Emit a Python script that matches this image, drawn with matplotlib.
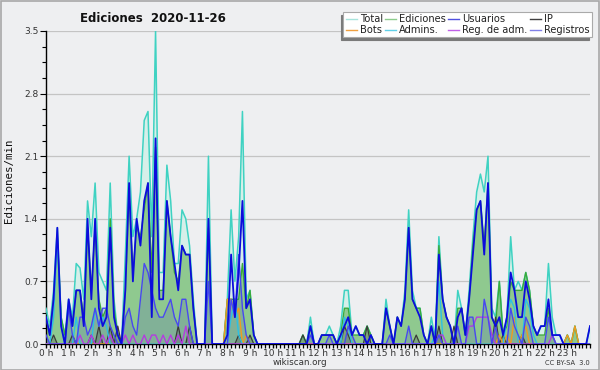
import numpy as np
import matplotlib
matplotlib.use("Agg")
import matplotlib.pyplot as plt
from matplotlib.lines import Line2D
from matplotlib.patches import Rectangle
from matplotlib.ticker import MultipleLocator

# 10-minute slots, 0h .. 24h (edits per minute)
total = [
    0.4, 0.2, 0.6, 1.3, 0.3, 0.1,
    0.5, 0.3, 0.9, 0.85, 0.5, 1.6,
    1.2, 1.8, 0.8, 0.7, 0.6, 1.8,
    0.5, 0.1, 0.0, 1.0, 2.1, 1.2,
    1.4, 1.7, 2.5, 2.6, 1.2, 3.5,
    0.8, 0.8, 2.0, 1.6, 0.9, 0.9,
    1.5, 1.4, 1.1, 0.5, 0.0, 0.0,
    0.0, 2.1, 0.0, 0.0, 0.0, 0.0,
    0.5, 1.5, 0.7, 1.2, 2.6, 0.5,
    0.6, 0.1, 0.0, 0.0, 0.0, 0.0,
    0.0, 0.0, 0.0, 0.0, 0.0, 0.0,
    0.0, 0.0, 0.1, 0.0, 0.3, 0.0,
    0.0, 0.1, 0.1, 0.2, 0.1, 0.0,
    0.2, 0.6, 0.6, 0.1, 0.2, 0.1,
    0.1, 0.2, 0.1, 0.0, 0.0, 0.0,
    0.5, 0.2, 0.0, 0.3, 0.2, 0.6,
    1.5, 0.6, 0.4, 0.4, 0.1, 0.0,
    0.3, 0.05, 1.2, 0.5, 0.3, 0.2,
    0.0, 0.6, 0.4, 0.1, 0.6, 1.2,
    1.7, 1.9, 1.7, 2.1, 0.4, 0.3,
    0.7, 0.1, 0.3, 1.2, 0.6, 0.7,
    0.6, 0.8, 0.6, 0.2, 0.1, 0.2,
    0.2, 0.9, 0.3, 0.1, 0.1, 0.0,
    0.1, 0.0, 0.2, 0.0, 0.0, 0.0,
    0.2,
]
ediciones = [
    0.3, 0.1, 0.5, 1.2, 0.3, 0.1,
    0.4, 0.2, 0.6, 0.6, 0.3, 1.3,
    0.6, 1.3, 0.5, 0.3, 0.4, 1.4,
    0.4, 0.1, 0.0, 0.6, 1.7, 0.8,
    1.3, 1.2, 1.5, 1.8, 0.8, 2.2,
    0.6, 0.6, 1.6, 1.2, 0.8, 0.7,
    1.1, 1.0, 1.0, 0.4, 0.0, 0.0,
    0.0, 1.3, 0.0, 0.0, 0.0, 0.0,
    0.5, 0.5, 0.5, 0.5, 0.9, 0.4,
    0.6, 0.1, 0.0, 0.0, 0.0, 0.0,
    0.0, 0.0, 0.0, 0.0, 0.0, 0.0,
    0.0, 0.0, 0.1, 0.0, 0.2, 0.0,
    0.0, 0.1, 0.1, 0.1, 0.1, 0.0,
    0.1, 0.4, 0.4, 0.1, 0.1, 0.1,
    0.1, 0.2, 0.1, 0.0, 0.0, 0.0,
    0.4, 0.2, 0.0, 0.3, 0.2, 0.5,
    1.3, 0.5, 0.4, 0.4, 0.1, 0.0,
    0.2, 0.0, 1.1, 0.5, 0.3, 0.2,
    0.0, 0.4, 0.4, 0.1, 0.5, 1.1,
    1.5, 1.6, 1.1, 1.8, 0.3, 0.2,
    0.7, 0.1, 0.2, 0.7, 0.6, 0.6,
    0.6, 0.8, 0.6, 0.2, 0.1, 0.1,
    0.1, 0.4, 0.1, 0.0, 0.0, 0.0,
    0.1, 0.0, 0.2, 0.0, 0.0, 0.0,
    0.0,
]
usuarios = [
    0.3, 0.1, 0.5, 1.3, 0.2, 0.0,
    0.5, 0.2, 0.6, 0.6, 0.2, 1.4,
    0.5, 1.4, 0.4, 0.2, 0.3, 1.3,
    0.3, 0.1, 0.0, 0.6, 1.8, 0.7,
    1.4, 1.1, 1.6, 1.8, 0.3, 2.3,
    0.5, 0.5, 1.6, 1.2, 0.9, 0.6,
    1.1, 1.0, 1.0, 0.4, 0.0, 0.0,
    0.0, 1.4, 0.0, 0.0, 0.0, 0.0,
    0.1, 1.0, 0.3, 0.8, 1.6, 0.4,
    0.5, 0.1, 0.0, 0.0, 0.0, 0.0,
    0.0, 0.0, 0.0, 0.0, 0.0, 0.0,
    0.0, 0.0, 0.0, 0.0, 0.2, 0.0,
    0.0, 0.1, 0.1, 0.1, 0.1, 0.0,
    0.1, 0.2, 0.3, 0.1, 0.2, 0.1,
    0.1, 0.0, 0.1, 0.0, 0.0, 0.0,
    0.4, 0.2, 0.0, 0.3, 0.2, 0.5,
    1.3, 0.5, 0.4, 0.3, 0.1, 0.0,
    0.2, 0.0, 1.0, 0.5, 0.3, 0.2,
    0.0, 0.3, 0.4, 0.1, 0.5, 1.0,
    1.5, 1.6, 1.0, 1.8, 0.3, 0.2,
    0.3, 0.1, 0.3, 0.8, 0.6, 0.3,
    0.3, 0.7, 0.5, 0.2, 0.1, 0.2,
    0.2, 0.5, 0.1, 0.1, 0.1, 0.0,
    0.0, 0.0, 0.0, 0.0, 0.0, 0.0,
    0.2,
]
ip = [
    0.0, 0.0, 0.1, 0.0, 0.0, 0.0,
    0.0, 0.1, 0.0, 0.0, 0.0, 0.0,
    0.1, 0.0, 0.2, 0.0, 0.0, 0.2,
    0.0, 0.2, 0.0, 0.0, 0.0, 0.0,
    0.0, 0.0, 0.0, 0.0, 0.0, 0.0,
    0.0, 0.0, 0.0, 0.0, 0.0, 0.2,
    0.0, 0.0, 0.2, 0.0, 0.0, 0.0,
    0.0, 0.0, 0.0, 0.0, 0.0, 0.0,
    0.0, 0.0, 0.0, 0.1, 0.0, 0.0,
    0.1, 0.0, 0.0, 0.0, 0.0, 0.0,
    0.0, 0.0, 0.0, 0.0, 0.0, 0.0,
    0.0, 0.0, 0.1, 0.0, 0.0, 0.0,
    0.0, 0.0, 0.0, 0.0, 0.0, 0.0,
    0.0, 0.2, 0.1, 0.0, 0.0, 0.0,
    0.0, 0.2, 0.0, 0.0, 0.0, 0.0,
    0.0, 0.0, 0.0, 0.0, 0.0, 0.0,
    0.0, 0.0, 0.1, 0.0, 0.0, 0.0,
    0.0, 0.0, 0.2, 0.0, 0.0, 0.0,
    0.2, 0.0, 0.0, 0.0, 0.0, 0.0,
    0.0, 0.0, 0.0, 0.0, 0.0, 0.3,
    0.0, 0.1, 0.0, 0.0, 0.0, 0.0,
    0.1, 0.0, 0.0, 0.0, 0.0, 0.0,
    0.0, 0.0, 0.0, 0.0, 0.0, 0.0,
    0.0, 0.0, 0.0, 0.0, 0.0, 0.0,
    0.0,
]
bots = [
    0.0, 0.0, 0.0, 0.0, 0.0, 0.0,
    0.0, 0.0, 0.0, 0.0, 0.0, 0.0,
    0.0, 0.0, 0.0, 0.0, 0.0, 0.0,
    0.0, 0.0, 0.0, 0.0, 0.0, 0.0,
    0.0, 0.0, 0.0, 0.0, 0.0, 0.0,
    0.0, 0.0, 0.0, 0.0, 0.0, 0.0,
    0.0, 0.0, 0.0, 0.0, 0.0, 0.0,
    0.0, 0.0, 0.0, 0.0, 0.0, 0.0,
    0.5, 0.5, 0.3, 0.4, 0.0, 0.1,
    0.0, 0.0, 0.0, 0.0, 0.0, 0.0,
    0.0, 0.0, 0.0, 0.0, 0.0, 0.0,
    0.0, 0.0, 0.0, 0.0, 0.0, 0.0,
    0.0, 0.0, 0.0, 0.0, 0.0, 0.0,
    0.0, 0.0, 0.0, 0.0, 0.0, 0.0,
    0.0, 0.0, 0.0, 0.0, 0.0, 0.0,
    0.0, 0.0, 0.0, 0.0, 0.0, 0.0,
    0.0, 0.0, 0.0, 0.0, 0.0, 0.0,
    0.0, 0.0, 0.0, 0.0, 0.0, 0.0,
    0.0, 0.0, 0.0, 0.0, 0.0, 0.0,
    0.0, 0.0, 0.0, 0.0, 0.0, 0.0,
    0.1, 0.0, 0.1, 0.0, 0.3, 0.0,
    0.1, 0.2, 0.0, 0.0, 0.0, 0.0,
    0.0, 0.0, 0.0, 0.0, 0.0, 0.0,
    0.1, 0.0, 0.2, 0.0, 0.0, 0.0,
    0.0,
]
admins = [
    0.0, 0.0, 0.3, 1.2, 0.2, 0.0,
    0.0, 0.0, 0.3, 0.0, 0.0, 0.0,
    0.0, 0.4, 0.2, 0.3, 0.2, 0.0,
    0.0, 0.0, 0.0, 0.0, 0.0, 0.0,
    0.0, 0.0, 0.0, 0.0, 0.0, 0.0,
    0.0, 0.0, 0.0, 0.0, 0.0, 0.0,
    0.0, 0.0, 0.0, 0.0, 0.0, 0.0,
    0.0, 0.0, 0.0, 0.0, 0.0, 0.0,
    0.0, 0.3, 0.5, 0.1, 0.0, 0.0,
    0.0, 0.0, 0.0, 0.0, 0.0, 0.0,
    0.0, 0.0, 0.0, 0.0, 0.0, 0.0,
    0.0, 0.0, 0.0, 0.0, 0.2, 0.0,
    0.0, 0.0, 0.0, 0.0, 0.0, 0.0,
    0.0, 0.3, 0.2, 0.0, 0.0, 0.0,
    0.0, 0.0, 0.0, 0.0, 0.0, 0.0,
    0.0, 0.0, 0.0, 0.0, 0.0, 0.0,
    0.0, 0.0, 0.0, 0.0, 0.0, 0.0,
    0.0, 0.1, 0.7, 0.1, 0.0, 0.0,
    0.0, 0.0, 0.0, 0.0, 0.0, 0.0,
    0.0, 0.0, 0.0, 0.0, 0.0, 0.0,
    0.0, 0.0, 0.3, 0.5, 0.4, 0.0,
    0.0, 0.5, 0.4, 0.1, 0.0, 0.0,
    0.0, 0.0, 0.0, 0.0, 0.0, 0.0,
    0.0, 0.0, 0.0, 0.0, 0.0, 0.0,
    0.0,
]
reg_adm = [
    0.0, 0.0, 0.0, 0.0, 0.0, 0.0,
    0.0, 0.0, 0.0, 0.1, 0.0, 0.0,
    0.1, 0.0, 0.0, 0.1, 0.0, 0.1,
    0.0, 0.0, 0.0, 0.1, 0.0, 0.1,
    0.0, 0.0, 0.1, 0.0, 0.1, 0.1,
    0.0, 0.1, 0.0, 0.1, 0.0, 0.1,
    0.0, 0.2, 0.0, 0.0, 0.0, 0.0,
    0.0, 0.0, 0.0, 0.0, 0.0, 0.0,
    0.0, 0.0, 0.0, 0.0, 0.0, 0.0,
    0.0, 0.0, 0.0, 0.0, 0.0, 0.0,
    0.0, 0.0, 0.0, 0.0, 0.0, 0.0,
    0.0, 0.0, 0.0, 0.0, 0.0, 0.0,
    0.0, 0.0, 0.0, 0.0, 0.0, 0.0,
    0.0, 0.0, 0.0, 0.0, 0.0, 0.0,
    0.0, 0.0, 0.0, 0.0, 0.0, 0.0,
    0.0, 0.0, 0.0, 0.0, 0.0, 0.0,
    0.0, 0.0, 0.0, 0.0, 0.0, 0.0,
    0.0, 0.0, 0.1, 0.1, 0.0, 0.0,
    0.0, 0.0, 0.0, 0.0, 0.2, 0.2,
    0.3, 0.3, 0.3, 0.3, 0.1, 0.0,
    0.0, 0.0, 0.0, 0.0, 0.0, 0.0,
    0.0, 0.0, 0.0, 0.0, 0.0, 0.0,
    0.0, 0.0, 0.1, 0.0, 0.0, 0.0,
    0.0, 0.0, 0.0, 0.0, 0.0, 0.0,
    0.0,
]
registros = [
    0.1, 0.0, 0.0, 0.0, 0.0, 0.0,
    0.4, 0.1, 0.0, 0.3, 0.3, 0.1,
    0.2, 0.4, 0.2, 0.4, 0.4, 0.2,
    0.1, 0.0, 0.0, 0.3, 0.4, 0.2,
    0.1, 0.5, 0.9, 0.8, 0.6, 0.4,
    0.3, 0.3, 0.4, 0.5, 0.3, 0.2,
    0.5, 0.5, 0.2, 0.0, 0.0, 0.0,
    0.0, 0.7, 0.0, 0.0, 0.0, 0.0,
    0.0, 0.5, 0.3, 1.0, 0.4, 0.1,
    0.0, 0.0, 0.0, 0.0, 0.0, 0.0,
    0.0, 0.0, 0.0, 0.0, 0.0, 0.0,
    0.0, 0.0, 0.0, 0.0, 0.1, 0.0,
    0.0, 0.0, 0.0, 0.1, 0.0, 0.0,
    0.0, 0.0, 0.2, 0.1, 0.0, 0.0,
    0.0, 0.0, 0.0, 0.0, 0.0, 0.0,
    0.0, 0.1, 0.0, 0.0, 0.0, 0.0,
    0.2, 0.0, 0.0, 0.0, 0.0, 0.0,
    0.0, 0.0, 0.1, 0.0, 0.0, 0.0,
    0.0, 0.2, 0.0, 0.0, 0.3, 0.3,
    0.0, 0.0, 0.5, 0.3, 0.0, 0.2,
    0.0, 0.0, 0.0, 0.4, 0.2, 0.1,
    0.0, 0.3, 0.2, 0.0, 0.0, 0.0,
    0.0, 0.3, 0.1, 0.0, 0.0, 0.0,
    0.0, 0.0, 0.0, 0.0, 0.0, 0.0,
    0.0,
]
hour_labels = ["0 h", "1 h", "2 h", "3 h", "4 h", "5 h", "6 h", "7 h",
               "8 h", "9 h", "10 h", "11 h", "12 h", "13 h", "14 h", "15 h",
               "16 h", "17 h", "18 h", "19 h", "20 h", "21 h", "22 h", "23 h"]
y_ticks = [0.0, 0.7, 1.4, 2.1, 2.8, 3.5]

BG = "#eeeff1"
fig = plt.figure(figsize=(6.0, 3.7), dpi=100, facecolor=BG)
fig.patches.append(Rectangle((0.001, 0.001), 0.997, 0.996, transform=fig.transFigure,
                             fill=False, edgecolor="#a8a8a8", lw=1.2))
ax = fig.add_axes([46/600, 26/370, 544/600, 313/370])
ax.set_facecolor(BG)

slots = np.arange(len(total))

ax.fill_between(slots, total, color="#d6efe9", lw=0, zorder=1)
ax.fill_between(slots, ediciones, color="#8fc98f", lw=0, zorder=2)
ax.fill_between(slots, registros, color="#5060b8", alpha=0.22, lw=0, zorder=3)
ax.fill_between(slots, ip, color="#404040", alpha=0.25, lw=0, zorder=3)

ax.plot(slots, total, color="#3fd2c2", lw=1.1, zorder=4)
ax.plot(slots, ediciones, color="#3aaa3a", lw=1.0, zorder=5)
ax.plot(slots, ip, color="#3a3a3a", lw=0.9, zorder=6)
ax.plot(slots, bots, color="#f09a20", lw=1.0, zorder=6)
ax.plot(slots, admins, color="#2cc0e4", lw=1.0, zorder=6)
ax.plot(slots, reg_adm, color="#b43ce0", lw=1.0, zorder=6)
ax.plot(slots, registros, color="#4848f0", lw=1.0, zorder=7)
ax.plot(slots, usuarios, color="#0c0cdc", lw=1.3, zorder=8)

ax.set_xlim(0, 144)
ax.set_ylim(0, 3.5)
ax.set_yticks(y_ticks)
ax.set_yticklabels([f"{v:.1f}" for v in y_ticks])
ax.yaxis.set_minor_locator(MultipleLocator(0.175))
ax.set_xticks(np.arange(0, 144, 6))
ax.set_xticklabels(hour_labels)
ax.xaxis.set_minor_locator(MultipleLocator(1))
ax.tick_params(axis="y", which="major", labelsize=6.5, length=4, width=0.8,
               colors="#000000", labelcolor="#333333", pad=1.5)
ax.tick_params(axis="y", which="minor", length=3, width=0.8, color="#000000")
ax.tick_params(axis="x", which="major", labelsize=6.5, length=3, width=1.0,
               colors="#000000", labelcolor="#333333", pad=0.3)
ax.tick_params(axis="x", which="minor", length=3, width=0.9, color="#000000")
ax.grid(axis="y", color="#c4c4c4", lw=0.9, zorder=0)
ax.set_axisbelow(True)
for s in ("top", "right"):
    ax.spines[s].set_visible(False)
ax.spines["left"].set_color("#000000")
ax.spines["bottom"].set_color("#000000")
ax.spines["left"].set_linewidth(1.0)
ax.spines["bottom"].set_linewidth(1.0)

fig.text(153/600, 1 - 18/370, "Ediciones  2020-11-26", ha="center", va="center",
         fontsize=8.5, fontweight="bold", color="#111111")
fig.text(9/600, 1 - 181/370, "Ediciones/min", rotation=90, ha="center", va="center",
         fontsize=7.8, family="DejaVu Sans Mono", color="#111111")
fig.text(300/600, 1 - 362.5/370, "wikiscan.org", ha="center", va="center",
         fontsize=6.3, color="#333333")
fig.text(590/600, 1 - 363/370, "CC BY-SA  3.0", ha="right", va="center",
         fontsize=4.8, color="#333333")

leg_labels = ["Total", "Bots", "Ediciones", "Admins.", "Usuarios", "Reg. de adm.", "IP", "Registros"]
leg_colors = ["#a8e4dc", "#f0a040", "#8ccc8c", "#60d0e8", "#5050e0", "#c060e8", "#404040", "#8080e8"]
handles = [Line2D([], [], color=c, lw=1.0) for c in leg_colors]
leg = fig.legend(handles, leg_labels, ncol=4, loc="upper right",
                 bbox_to_anchor=(592/600, 1 - 12/370), fontsize=7.1,
                 frameon=True, fancybox=False, framealpha=1,
                 edgecolor="#aaaaaa", facecolor="#ffffff",
                 borderpad=0.25, handlelength=1.1, handletextpad=0.3,
                 columnspacing=0.25, labelspacing=0.05, borderaxespad=0,
                 shadow={"ox": -2, "oy": -2, "color": "#7a7a7a", "alpha": 1})
leg.get_frame().set_linewidth(0.8)
for t in leg.get_texts():
    t.set_color("#222222")

fig.savefig("out.png", dpi=100, facecolor=BG)
